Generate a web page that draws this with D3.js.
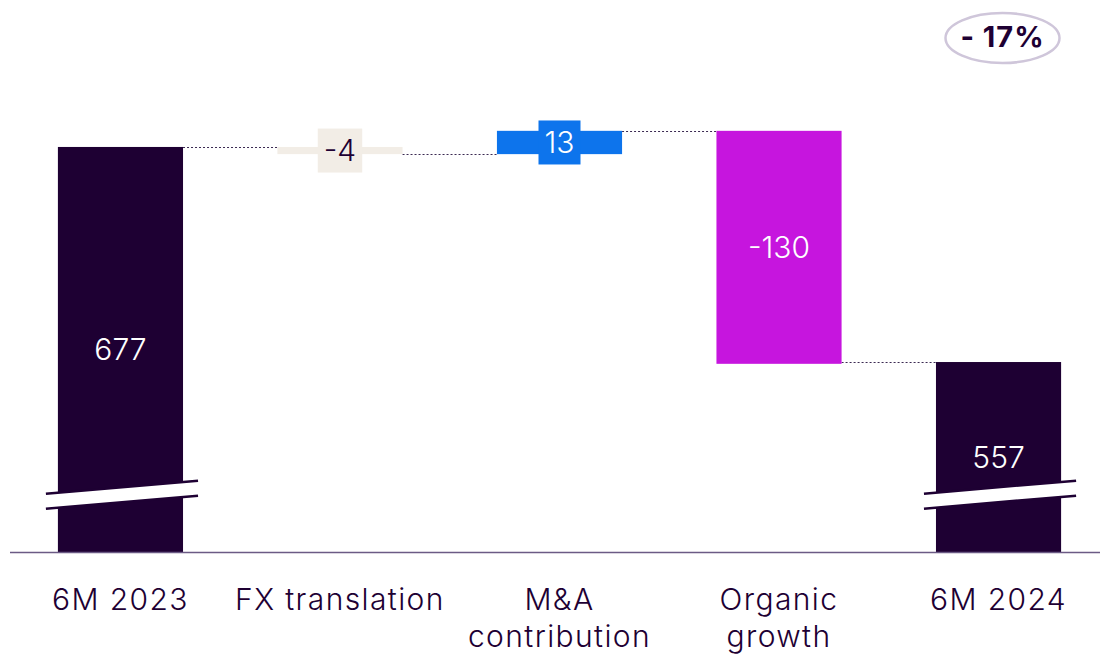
<!DOCTYPE html>
<html>
<head>
<meta charset="utf-8">
<script src="https://cdn.jsdelivr.net/npm/d3@7"></script>
<style>
  body { margin: 0; background: #fff; }
  svg text { font-family: Inter, "Noto Sans", sans-serif; }
</style>
</head>
<body>
<svg id="chart" width="1100" height="655"></svg>
<script>
var categories = [["6M 2023"], ["FX translation"], ["M&A", "contribution"], ["Organic", "growth"], ["6M 2024"]];
var values = [677, -4, 13, -130, 557];
var kinds = ["total", "delta", "delta", "delta", "total"];
var barColors = ["#1e0033", "#f2ede6", "#0d74ec", "#c615de", "#1e0033"];
var labelColors = ["#ffffff", "#1e0033", "#ffffff", "#ffffff", "#ffffff"];
var changeLabel = "- 17%";

var svg = d3.select("svg#chart"),
    width = +svg.attr("width"),
    height = +svg.attr("height");

var dark = "#1e0033";

// running totals for waterfall
var steps = [];
var level = 0;
values.forEach(function(v, i) {
    if (kinds[i] == "total") {
        steps.push({ i: i, start: null, end: v, value: v });
        level = v;
    } else {
        steps.push({ i: i, start: level, end: level + v, value: v });
        level = level + v;
    }
});

var x = d3.scaleBand()
    .domain(d3.range(categories.length))
    .range([14, 1105])
    .paddingInner(0.43)
    .paddingOuter(0.2);

// truncated value axis (bars are broken)
var y = d3.scaleLinear()
    .domain([451, 759])
    .range([552, 0]);

var baseY = y.range()[0];
var breakAt = 483;

// connectors
var conn = svg.append("g");
steps.forEach(function(d, i) {
    if (i == steps.length - 1) return;
    var next = steps[i + 1];
    var yy = Math.round(y(d.end)) + 0.5;
    if (next.start == null) yy = Math.round(y(next.end)) + 0.5;
    conn.append("line")
        .attr("x1", x(i) + x.bandwidth())
        .attr("x2", x(i + 1))
        .attr("y1", yy)
        .attr("y2", yy)
        .attr("stroke", "#3b2a52")
        .attr("stroke-width", 1)
        .attr("stroke-dasharray", "2,2");
});

// bars
var bars = svg.append("g");
steps.forEach(function(d, i) {
    var y0 = d.start == null ? baseY : y(d.start);
    var y1 = y(d.end);
    bars.append("rect")
        .attr("x", x(i))
        .attr("width", x.bandwidth())
        .attr("y", Math.min(y0, y1))
        .attr("height", Math.abs(y0 - y1))
        .attr("fill", barColors[i]);
});

// break marks on totals
steps.forEach(function(d, i) {
    if (d.start != null) return;
    var xl = x(i) - 12, xr = x(i) + x.bandwidth() + 15;
    var yb = y(breakAt);
    var tilt = 6.5, gap = 7.5;
    var g = svg.append("g");
    g.append("polygon")
        .attr("points", [
            [xl, yb - gap + tilt], [xr, yb - gap - tilt],
            [xr, yb + gap - tilt], [xl, yb + gap + tilt]
        ].join(" "))
        .attr("fill", "#fff");
    [-gap, gap].forEach(function(off) {
        g.append("line")
            .attr("x1", xl).attr("y1", yb + off + tilt)
            .attr("x2", xr).attr("y2", yb + off - tilt)
            .attr("stroke", dark)
            .attr("stroke-width", 2.5);
    });
});

// value labels
steps.forEach(function(d, i) {
    var y0 = d.start == null ? y(d.end) : y(d.start);
    var y1 = d.start == null ? baseY : y(d.end);
    var cy = (y0 + y1) / 2;
    var cx = x(i) + x.bandwidth() / 2;
    var lg = svg.append("g");
    var t = lg.append("text")
        .attr("x", cx)
        .attr("y", cy)
        .attr("dy", "0.36em")
        .attr("text-anchor", "middle")
        .attr("font-size", 30)
        .attr("font-weight", 300)
        .attr("fill", labelColors[i])
        .text(d.value);
    if (d.start != null && Math.abs(y0 - y1) < 40) {
        var bb = t.node().getBBox();
        lg.insert("rect", "text")
            .attr("x", bb.x - 6)
            .attr("width", bb.width + 12)
            .attr("y", cy - 22)
            .attr("height", 44)
            .attr("fill", barColors[i]);
    }
});

// baseline
svg.append("line")
    .attr("x1", 10).attr("x2", width)
    .attr("y1", baseY + 0.5).attr("y2", baseY + 0.5)
    .attr("stroke", "#6b5a85")
    .attr("stroke-width", 1.5);

// category labels
categories.forEach(function(lines, i) {
    var t = svg.append("text")
        .attr("x", x(i) + x.bandwidth() / 2)
        .attr("y", 610)
        .attr("text-anchor", "middle")
        .attr("font-size", 30)
        .attr("font-weight", 300)
        .attr("letter-spacing", 1.4)
        .attr("fill", dark);
    lines.forEach(function(s, k) {
        t.append("tspan")
            .attr("x", x(i) + x.bandwidth() / 2)
            .attr("dy", k == 0 ? 0 : 37)
            .text(s);
    });
});

// change bubble
var bub = svg.append("g").attr("transform", "translate(1002.5,38)");
bub.append("ellipse")
    .attr("rx", 57)
    .attr("ry", 25)
    .attr("fill", "none")
    .attr("stroke", "#cfc6da")
    .attr("stroke-width", 2.5);
bub.append("text")
    .attr("y", 9)
    .attr("text-anchor", "middle")
    .attr("font-size", 29)
    .attr("font-weight", 700)
    .attr("letter-spacing", 1)
    .attr("fill", dark)
    .text(changeLabel);
</script>
</body>
</html>
